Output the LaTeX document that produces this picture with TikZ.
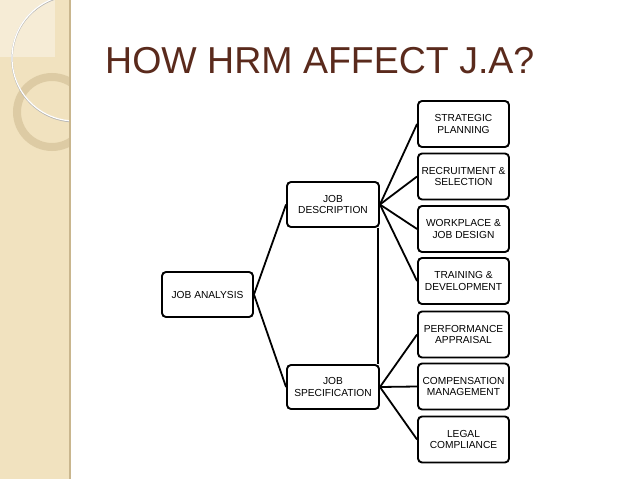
\documentclass[tikz,border=0pt]{standalone}
\usepackage{fontspec}
\setmainfont{Liberation Sans}
\definecolor{strip}{HTML}{F1E2BF}
\definecolor{stripl}{HTML}{F6ECD6}
\definecolor{stripborder}{HTML}{C9B68E}
\definecolor{ringc}{HTML}{D8C69E}
\definecolor{titlec}{HTML}{5A2A1C}
\begin{document}
\begin{tikzpicture}[x=1pt,y=-1pt,
  box/.style={draw, line width=1.9pt, rounded corners=4pt, align=center,
    font=\fontsize{10.2}{11.5}\selectfont, inner sep=0pt},
  rbox/.style={box, minimum width=91pt, minimum height=46pt},
  conn/.style={line width=1.8pt}]
\useasboundingbox (0,0) rectangle (638,479);
\fill[white] (0,0) rectangle (638,479);
% left decorative strip
\fill[strip] (0,0) rectangle (70,479);
\fill[stripl] (0,0) rectangle (55,57);
\begin{scope}
  \clip (0,0) rectangle (70,479);
  \draw[ringc, line width=8pt, opacity=0.8] (52,112) circle (35);
  \draw[gray!60, line width=1.6pt] (75,58.6) circle (63);
  \draw[white, line width=1.2pt] (75,58) circle (63);
\end{scope}
\draw[stripborder, line width=1.2pt] (70,0) -- (70,479);
% title
\node[anchor=base west, text=titlec, inner sep=0pt,
  font=\fontsize{37.5}{40}\selectfont] (title) at (105,73) {HOW HRM AFFECT J.A?};
% boxes
\node[box, minimum width=91pt, minimum height=45pt] (ja) at (207.5,294.5) {JOB ANALYSIS};
\node[box, minimum width=92pt, minimum height=45pt] (jd) at (333,204.5) {JOB\\DESCRIPTION};
\node[box, minimum width=92pt, minimum height=44pt] (js) at (333,387) {JOB\\SPECIFICATION};
\node[rbox] (r1) at (463.5,124) {STRATEGIC\\PLANNING};
\node[rbox] (r2) at (463.5,176.5) {RECRUITMENT \&\\SELECTION};
\node[rbox] (r3) at (463.5,229) {WORKPLACE \&\\JOB DESIGN};
\node[rbox] (r4) at (463.5,281) {TRAINING \&\\DEVELOPMENT};
\node[rbox] (r5) at (463.5,334.5) {PERFORMANCE\\APPRAISAL};
\node[rbox] (r6) at (463.5,386.5) {COMPENSATION\\MANAGEMENT};
\node[rbox] (r7) at (463.5,439.5) {LEGAL\\COMPLIANCE};
% connectors
\draw[conn] (ja.east) -- (jd.west);
\draw[conn] (ja.east) -- (js.west);
\foreach \r in {r1,r2,r3,r4} \draw[conn] (jd.east) -- (\r.west);
\foreach \r in {r5,r6,r7} \draw[conn] (js.east) -- (\r.west);
\draw[conn] ([xshift=-1.8pt]jd.south east) -- ([xshift=-1.8pt]js.north east);
\end{tikzpicture}
\end{document}
